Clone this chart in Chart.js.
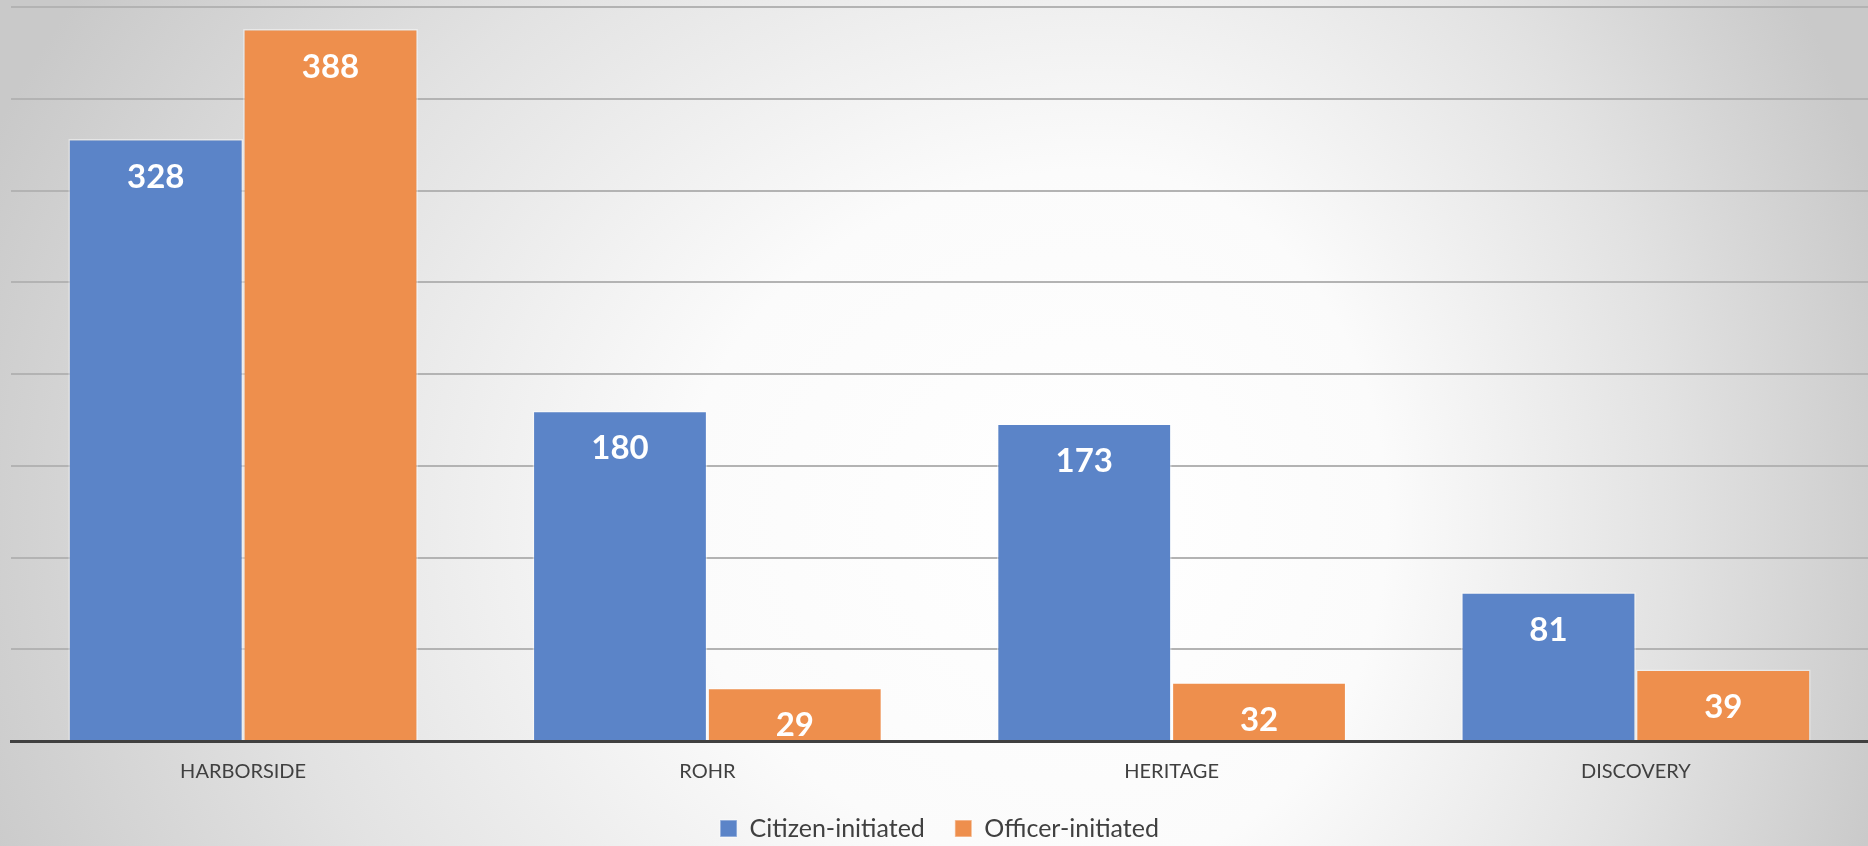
<!DOCTYPE html>
<html>
<head>
<meta charset="utf-8">
<script src="https://cdn.jsdelivr.net/npm/chart.js@4"></script>
<style>
  html, body { margin: 0; padding: 0; }
  #wrap { position: relative; width: 1868px; height: 846px; }
</style>
</head>
<body>
<div id="wrap"><canvas id="stationChart"></canvas></div>
<script>
const stations = ['HARBORSIDE', 'ROHR', 'HERITAGE', 'DISCOVERY'];
const citizenInitiated = [328, 180, 173, 81];
const officerInitiated = [388, 29, 32, 39];
const yMax = 400;
const yStep = 50;

// soft grey/white glow behind the chart, like the office theme fill
const backdrop = {
  id: 'backdrop',
  beforeDraw(chart) {
    const ctx = chart.ctx;
    const w = chart.width, h = chart.height;
    const cx = 1100, cy = 520, ry = 1000;
    const halves = [[0, cx, 1200], [cx, w - cx, 820]];
    halves.forEach(([x0, wid, rx]) => {
      ctx.save();
      ctx.beginPath();
      ctx.rect(x0, 0, wid, h);
      ctx.clip();
      ctx.translate(cx, cy);
      ctx.scale(rx / ry, 1);
      const g = ctx.createRadialGradient(0, 0, 0, 0, 0, ry);
      g.addColorStop(0, '#ffffff');
      g.addColorStop(0.35, '#fbfbfb');
      g.addColorStop(0.7, '#e2e2e2');
      g.addColorStop(1, '#c9c9c9');
      ctx.fillStyle = g;
      ctx.fillRect(-4000, -4000, 8000, 8000);
      ctx.restore();
    });
  }
};

// white value labels just inside the top of each bar
const barValues = {
  id: 'barValues',
  afterDatasetsDraw(chart) {
    const ctx = chart.ctx;
    ctx.save();
    ctx.font = 'bold 33px Lato';
    ctx.fillStyle = '#ffffff';
    ctx.textAlign = 'center';
    ctx.textBaseline = 'middle';
    chart.data.datasets.forEach((ds, i) => {
      chart.getDatasetMeta(i).data.forEach((bar, j) => {
        ctx.fillText(String(ds.data[j]), bar.x, bar.y + 38);
      });
    });
    ctx.restore();
  }
};

const ctx = document.getElementById('stationChart').getContext('2d');
const stationChart = new Chart(ctx, {
  type: 'bar',
  data: {
    labels: stations,
    datasets: [{
      label: 'Citizen-initiated',
      data: citizenInitiated,
      backgroundColor: '#5b84c8',
      borderColor: 'rgba(255, 255, 255, 0.45)',
      borderWidth: 1.5
    }, {
      label: 'Officer-initiated',
      data: officerInitiated,
      backgroundColor: '#ee8f4d',
      borderColor: 'rgba(255, 255, 255, 0.45)',
      borderWidth: 1.5
    }]
  },
  options: {
    responsive: true,
    maintainAspectRatio: false,
    animation: false,
    layout: { padding: { top: 7, left: 11, right: 0, bottom: -5 } },
    datasets: {
      bar: { categoryPercentage: 0.753, barPercentage: 1 }
    },
    scales: {
      x: {
        grid: { display: false, drawTicks: false },
        border: { display: true, color: '#404040', width: 3 },
        ticks: {
          color: '#404040',
          font: { family: 'Lato', size: 20 },
          padding: 19
        },
        afterFit(scale) { scale.height = 45; }
      },
      y: {
        min: 0,
        max: yMax,
        ticks: { display: false, stepSize: yStep },
        grid: { color: '#b3b3b3', lineWidth: 2, drawTicks: false },
        border: { display: false },
        afterFit(scale) { scale.width = 0; }
      }
    },
    plugins: {
      legend: {
        position: 'bottom',
        labels: {
          color: '#404040',
          font: { family: 'Lato', size: 25 },
          boxWidth: 17,
          boxHeight: 17,
          padding: 30
        }
      },
      tooltip: { enabled: false }
    }
  },
  plugins: [backdrop, barValues]
});
</script>
</body>
</html>
